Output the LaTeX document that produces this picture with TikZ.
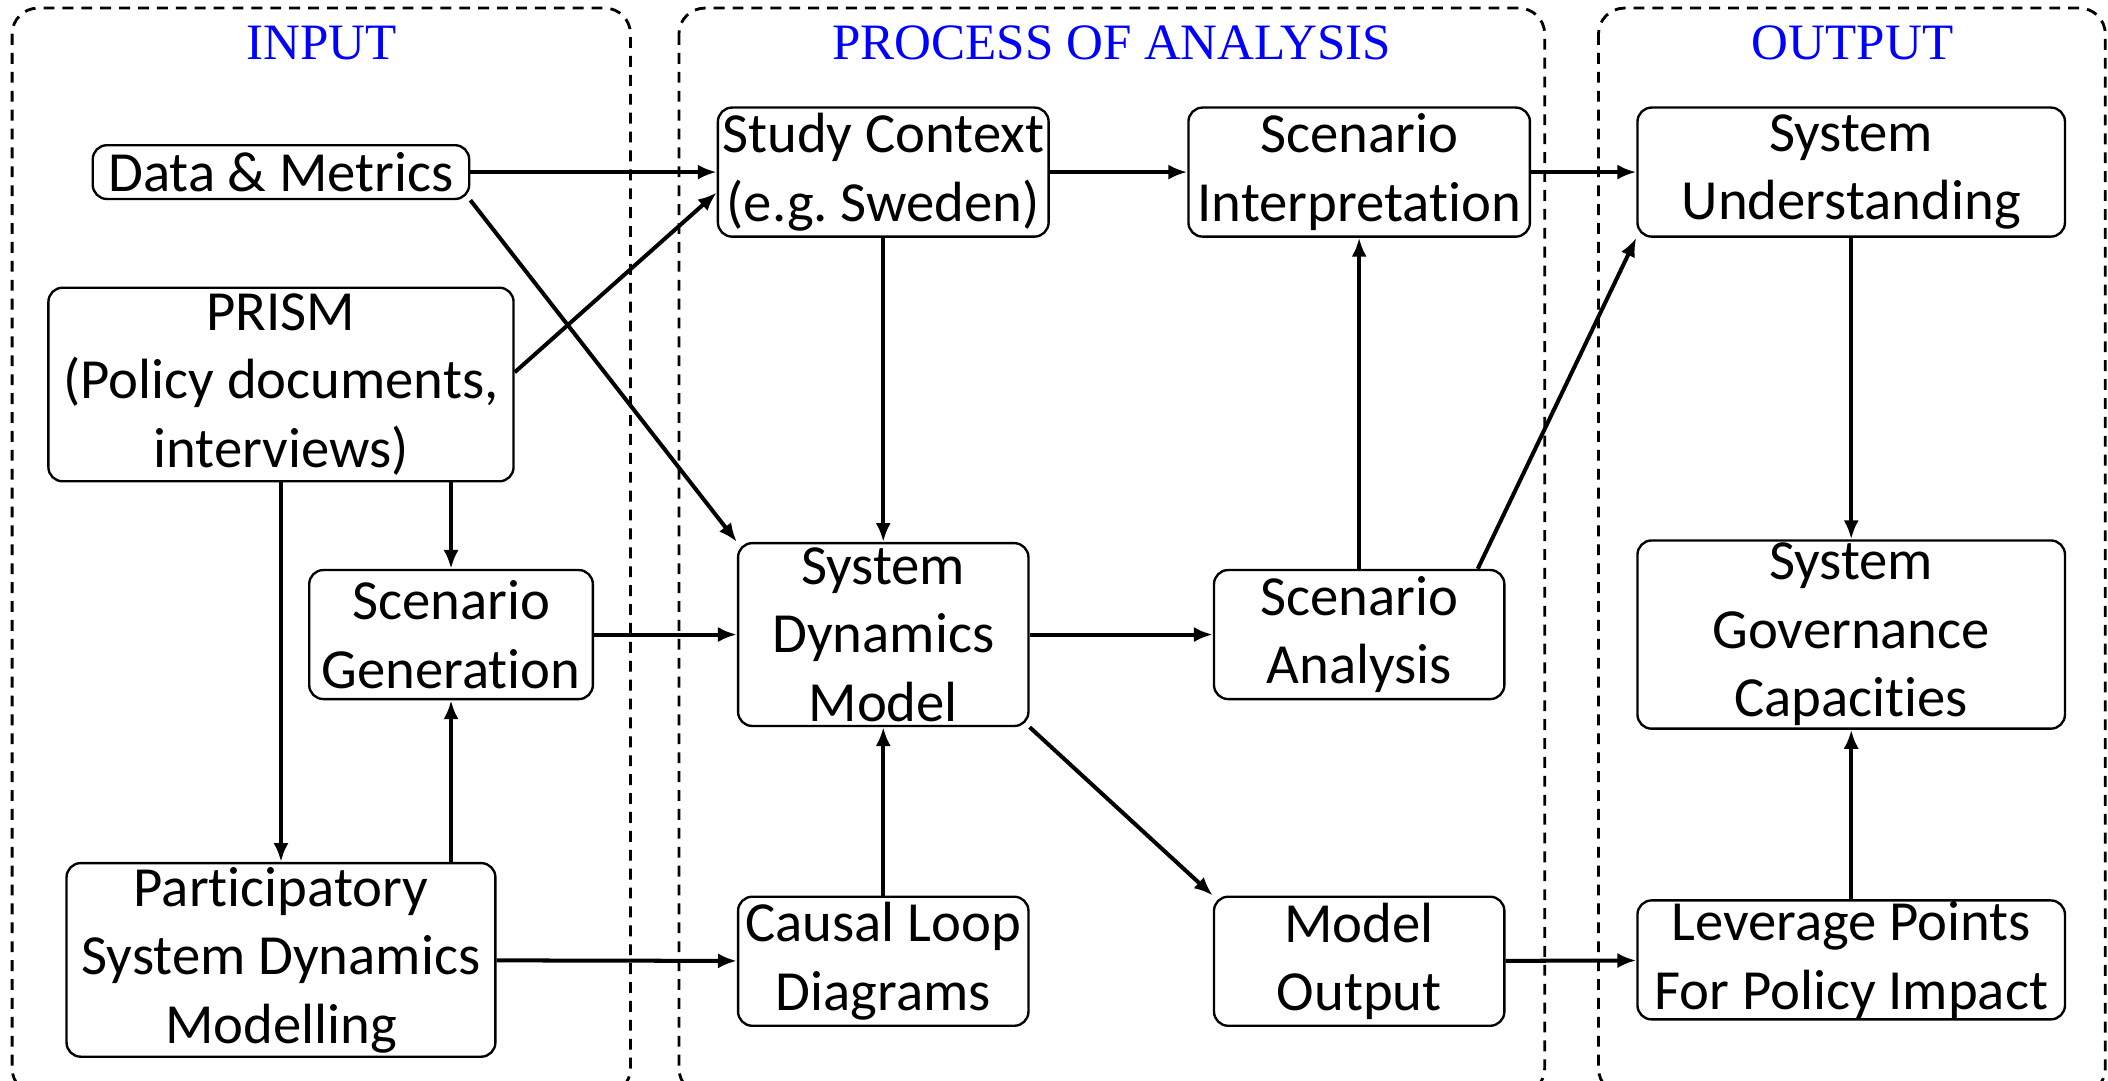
\documentclass[tikz,border=0pt]{standalone}
\usepackage{fontspec}
\setmainfont{Carlito}[Ligatures=NoCommon]
\newfontfamily\headfont{Liberation Serif}
\usepackage{tikz}
\usetikzlibrary{arrows.meta, positioning}
\usetikzlibrary{calc}

\begin{document}
\begin{tikzpicture}[x=0.1mm, y=-0.1mm,
		box/.style={draw, rounded corners=3pt, line width=0.5pt, align=center, inner sep=0pt, font=\fontsize{12}{14.5}\selectfont},
		group/.style={draw, dash pattern=on 2.3pt off 1.7pt, line width=0.6pt, rounded corners=5.5pt},
		head/.style={text=blue, font=\headfont\fontsize{10.8}{12}\selectfont},
		link/.style={->, line width=0.85pt},
		>={Latex[length=4pt,width=3.2pt]}]
		\clip (0,0) rectangle (1568,804);

		% dashed frames
		\draw[group] (9,6) rectangle (469,814);
		\draw[group] (505,6) rectangle (1149,814);
		\draw[group] (1189,6) rectangle (1566,814);
		\draw (239,32) node[head] (tin) {INPUT}
		(827,32) node[head] (tproc) {PROCESS OF ANALYSIS}
		(1378,32) node[head] (tout) {OUTPUT};

		\draw (209,128) node[box, minimum width=28mm, minimum height=4mm] (dm) {Data \& Metrics}
		(209,286) node[box, minimum width=34.6mm, minimum height=14.4mm] (prism) {PRISM\\(Policy documents,\\interviews)}
		(335.5,472) node[box, minimum width=21.1mm, minimum height=9.6mm] (sg) {Scenario\\Generation}
		(209,714) node[box, minimum width=31.9mm, minimum height=14.4mm] (psdm) {Participatory\\System Dynamics\\Modelling}
		(657,128) node[box, minimum width=24.6mm, minimum height=9.6mm] (sc) {Study Context\\(e.g.\ Sweden)}
		(1011,128) node[box, minimum width=25.4mm, minimum height=9.6mm] (si) {Scenario\\Interpretation}
		(657,472) node[box, minimum width=21.6mm, minimum height=13.6mm] (sdm) {System\\Dynamics\\Model}
		(1011,472) node[box, minimum width=21.6mm, minimum height=9.6mm] (sa) {Scenario\\Analysis}
		(657,715) node[box, minimum width=21.6mm, minimum height=9.6mm] (cld) {Causal Loop\\Diagrams}
		(1011,715) node[box, minimum width=21.6mm, minimum height=9.6mm] (mo) {Model\\Output}
		(1377,128) node[box, minimum width=31.8mm, minimum height=9.6mm] (su) {System\\Understanding}
		(1377,472) node[box, minimum width=31.8mm, minimum height=14mm] (sgc) {System\\Governance\\Capacities}
		(1377,714) node[box, minimum width=31.8mm, minimum height=8.85mm] (lp) {Leverage Points\\For Policy Impact};

		\draw[link] (dm) -- (sc);
		\draw[link] (dm.south east) -- (sdm.north west);
		\draw[link] (prism.3) -- (sc.187);
		\draw[link] (prism) -- (psdm);
		\draw[link] (sg.north |- prism.south) -- (sg);
		\draw[link] (sg.south |- psdm.north) -- (sg);
		\draw[link] (sg) -- (sdm);
		\draw[link] (psdm) -- (cld);
		\draw[link] (sc) -- (sdm);
		\draw[link] (cld) -- (sdm);
		\draw[link] (sdm) -- (sa);
		\draw[link] (sdm.south east) -- (mo.north west);
		\draw[link] (sa) -- (si);
		\draw[link] (sa.29) -- (su.south west);
		\draw[link] (sc) -- (si);
		\draw[link] (si) -- (su);
		\draw[link] (su) -- (sgc);
		\draw[link] (lp) -- (sgc);
		\draw[link] (mo) -- (lp);
	\end{tikzpicture}
\end{document}
